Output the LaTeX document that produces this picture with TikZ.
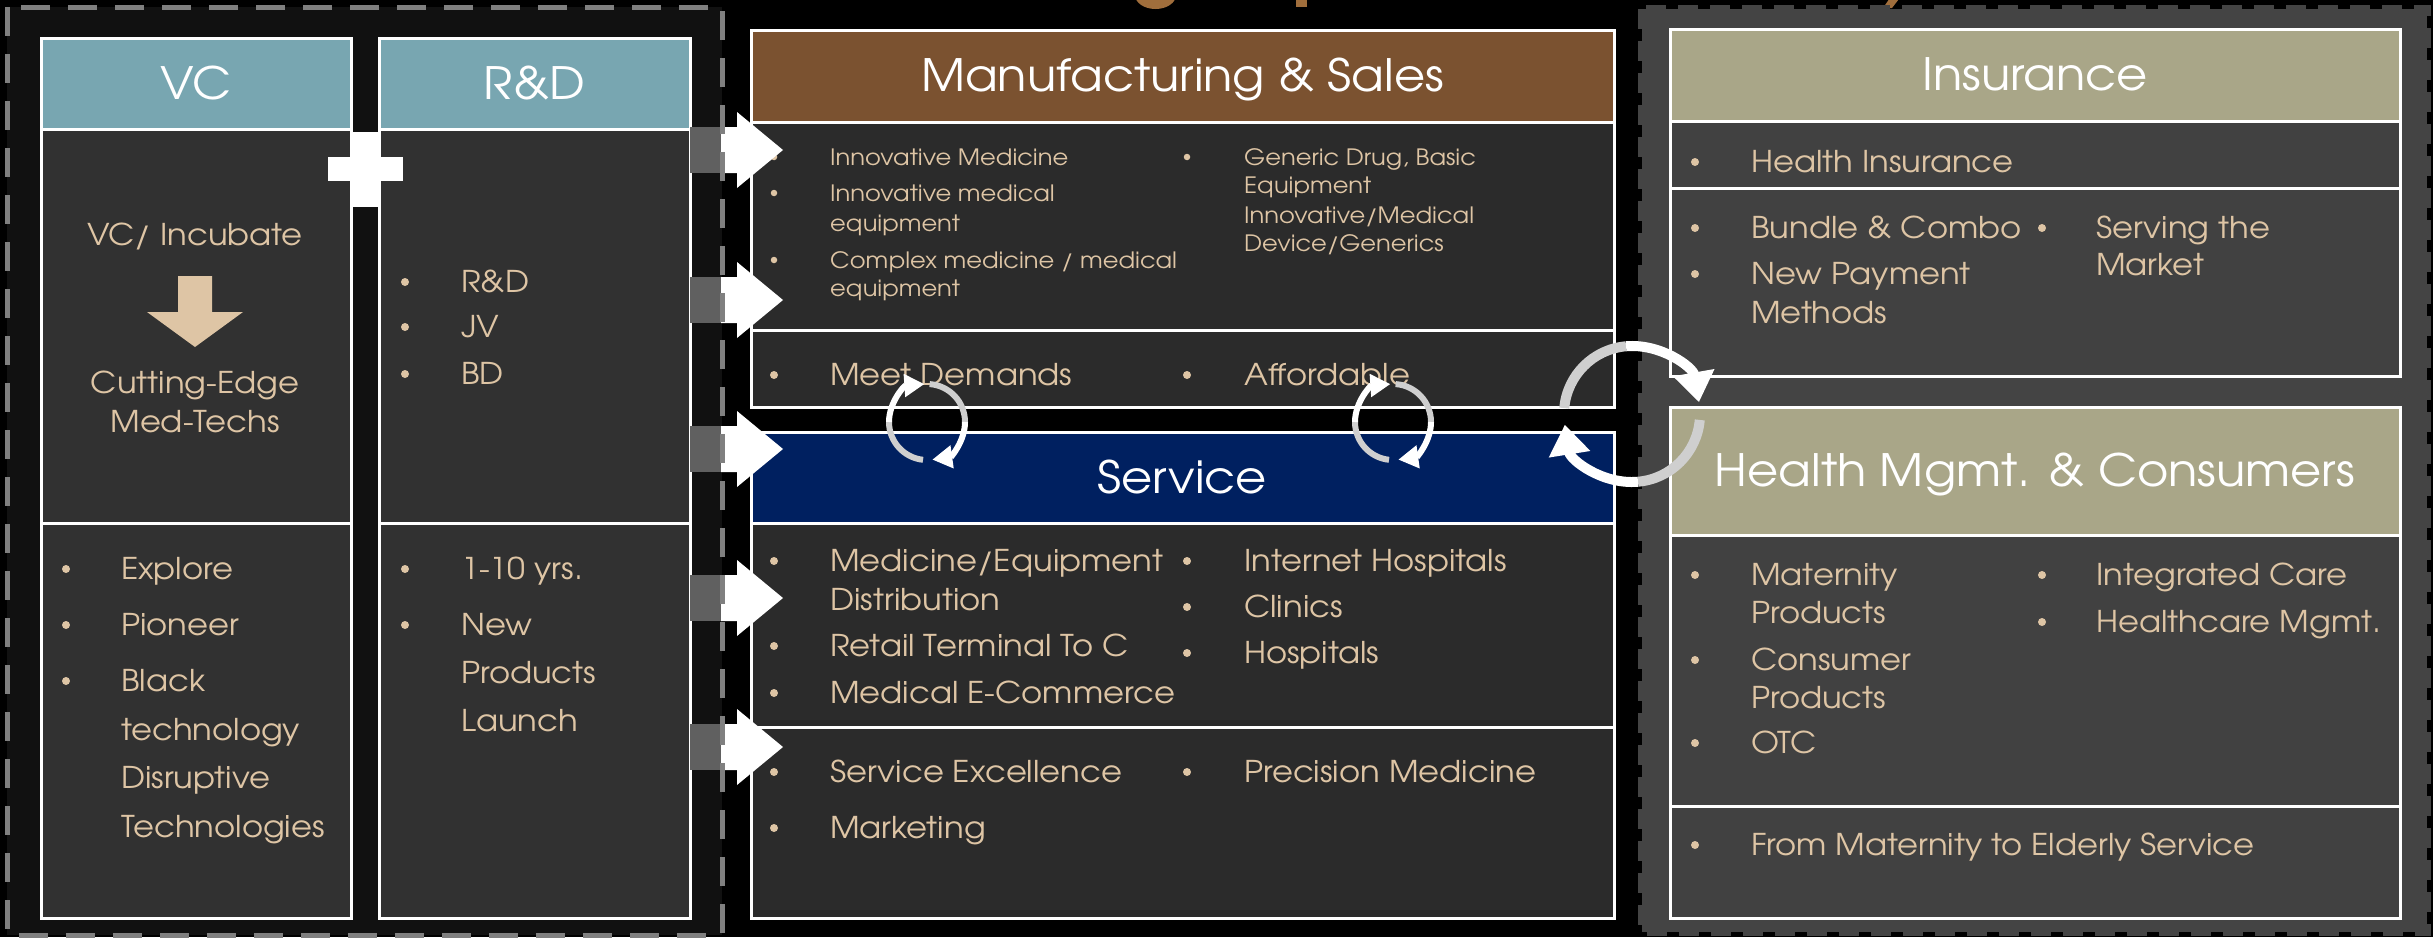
\documentclass[tikz,border=0pt]{standalone}
\usepackage{fontspec}
\setmainfont[FakeStretch=1.075]{TeX Gyre Adventor}
\usetikzlibrary{arrows.meta}
\definecolor{tancol}{HTML}{DEC5A5}
\definecolor{tealc}{HTML}{78A6B1}
\definecolor{brownh}{HTML}{7B5230}
\definecolor{navyc}{HTML}{002060}
\definecolor{khakic}{HTML}{A9A688}
\definecolor{bodyL}{HTML}{313131}
\definecolor{bodyM}{HTML}{2B2B2B}
\definecolor{bodyR}{HTML}{414141}
\definecolor{panelL}{HTML}{111111}
\definecolor{panelR}{HTML}{444444}
\definecolor{arcgray}{HTML}{CFCFCF}
\definecolor{shaftgray}{HTML}{606060}
\definecolor{dashgray}{HTML}{808080}
\definecolor{titlebrown}{HTML}{A06E3C}
\newcommand\bl[5]{\node[dot] (#1b) at (#2,#4) {}; \node[lst] (#1) at (#3,#4) {#5};}
\newcommand\sbl[5]{\node[sdot] (#1b) at (#2,#4) {}; \node[sml] (#1) at (#3,#4) {#5};}
\newcommand\tl[4]{\node[lst] (#1) at (#2,#3) {#4};}
\newcommand\stl[4]{\node[sml] (#1) at (#2,#3) {#4};}
\newcommand\bigarr[2]{%
  \fill[shaftgray] (690,{#2-23}) rectangle (722,{#2+23});
  \fill[white] (721,{#2-23}) -- (737,{#2-23}) -- (737,{#2-38}) -- (783,#2) -- (737,{#2+38}) -- (737,{#2+23}) -- (721,{#2+23}) -- cycle;
  \coordinate (#1) at (783,#2);}
% center x, center y, radius, start, mid, end, line width, head length, head width
\newcommand\circarr[9]{%
  \draw[arcgray, line width=#7pt] ([shift={(#4:#3)}]#1,#2) arc[start angle=#4, end angle=#5, radius=#3];
  \draw[white, line width=#7pt, -{Triangle[length=#8pt,width=#9pt]}] ([shift={(#5:#3)}]#1,#2) arc[start angle=#5, end angle=#6, radius=#3];}
\begin{document}
\begin{tikzpicture}[x=1pt,y=-1pt,
  box/.style={draw=white, line width=3pt, rectangle, anchor=north west, inner sep=0pt, outer sep=0pt},
  hdr/.style={box, text=white, font=\fontsize{44.6}{50}\selectfont, text height=31pt, text depth=0pt},
  lst/.style={anchor=west, inner sep=0pt, text=tancol, font=\fontsize{30}{36}\selectfont, text height=21pt, text depth=0pt},
  ctr/.style={lst, anchor=center},
  sml/.style={lst, font=\fontsize{22.5}{27}\selectfont, text height=16pt},
  dot/.style={circle, fill=tancol, minimum size=8pt, inner sep=0pt},
  sdot/.style={dot, minimum size=6.5pt}]
\useasboundingbox (0,0) rectangle (2433,937);
\fill[black] (0,0) rectangle (2433,937);
% title fragments
\fill[titlebrown] (1155.5,-5) ellipse [x radius=20.5, y radius=14];
\fill[titlebrown] (1296,-5) rectangle (1307,7);
\fill[titlebrown] (1892,-5) -- (1902,-5) -- (1892,8) -- (1883,8) -- cycle;
% panels
\fill[panelL] (7,7) rectangle (722,935);
\fill[panelR] (1642,9) rectangle (2427,932);
\draw[panelR, line width=8pt, dash pattern=on 20pt off 12pt] (1642,9) rectangle (2427,932);
% left column
\node[hdr, fill=tealc, minimum width=310pt, minimum height=91pt] (vcH) at (41,38) {VC};
\node[box, fill=bodyL, minimum width=310pt, minimum height=394pt] (vcU) at (41,129) {};
\node[box, fill=bodyL, minimum width=310pt, minimum height=395pt] (vcL) at (41,523) {};
\node[hdr, fill=tealc, minimum width=311pt, minimum height=91pt] (rdH) at (379,38) {R\&D};
\node[box, fill=bodyL, minimum width=311pt, minimum height=394pt] (rdU) at (379,129) {};
\node[box, fill=bodyL, minimum width=311pt, minimum height=395pt] (rdL) at (379,523) {};
\fill[white] (353,132) rectangle (378,207);
\fill[white] (328,157) rectangle (403,181);
\node[ctr] (vcA) at (195,235) {VC/ Incubate};
\fill[tancol] (178,276) -- (212,276) -- (212,312) -- (243,312) -- (195,347) -- (147,312) -- (178,312) -- cycle;
\node[ctr] (vcB) at (195,383) {Cutting-Edge};
\node[ctr] (vcC) at (195,422) {Med-Techs};
\bl{rd1}{405}{461}{282}{R\&D}
\bl{rd2}{405}{461}{327}{JV}
\bl{rd3}{405}{461}{374}{BD}
\bl{ex1}{66}{121}{569}{Explore}
\bl{ex2}{66}{121}{625}{Pioneer}
\bl{ex3}{66}{121}{681}{Black}
\tl{ex3b}{121}{730}{technology}
\tl{ex3c}{121}{778}{Disruptive}
\tl{ex3d}{121}{827}{Technologies}
\bl{yr1}{405}{461}{569}{1-10 yrs.}
\bl{yr2}{405}{461}{625}{New}
\tl{yr2b}{461}{673}{Products}
\tl{yr2c}{461}{721}{Launch}
% middle column
\node[hdr, fill=brownh, minimum width=863pt, minimum height=92pt] (msH) at (751,30) {Manufacturing \& Sales};
\node[box, fill=bodyM, minimum width=863pt, minimum height=208pt] (msB1) at (751,122) {};
\node[box, fill=bodyM, minimum width=863pt, minimum height=77pt] (msB2) at (751,330) {};
\node[hdr, fill=navyc, minimum width=863pt, minimum height=91pt] (svH) at (751,432) {Service};
\node[box, fill=bodyM, minimum width=863pt, minimum height=204pt] (svB1) at (751,523) {};
\node[box, fill=bodyM, minimum width=863pt, minimum height=191pt] (svB2) at (751,727) {};
\sbl{m1}{774}{830}{157}{Innovative Medicine}
\sbl{m2}{774}{830}{193}{Innovative medical}
\stl{m2b}{830}{223}{equipment}
\sbl{m3}{774}{830}{260}{Complex medicine / medical}
\stl{m3b}{830}{288}{equipment}
\sbl{m4}{1187}{1244}{157}{Generic Drug, Basic}
\stl{m4b}{1244}{185}{Equipment}
\stl{m4c}{1244}{215}{Innovative/Medical}
\stl{m4d}{1244}{243}{Device/Generics}
\bl{md}{774}{830}{375}{Meet Demands}
\bl{af}{1187}{1244}{375}{Affordable}
\bl{s1}{774}{830}{561}{Medicine/Equipment}
\tl{s1b}{830}{600}{Distribution}
\bl{s2}{774}{830}{646}{Retail Terminal To C}
\bl{s3}{774}{830}{693}{Medical E-Commerce}
\bl{s4}{1187}{1244}{561}{Internet Hospitals}
\bl{s5}{1187}{1244}{607}{Clinics}
\bl{s6}{1187}{1244}{653}{Hospitals}
\bl{se}{774}{830}{772}{Service Excellence}
\bl{pm}{1187}{1244}{772}{Precision Medicine}
\bl{mk}{774}{830}{828}{Marketing}
% right column
\node[hdr, fill=khakic, minimum width=730pt, minimum height=92pt] (inH) at (1670,29) {Insurance};
\node[box, fill=bodyR, minimum width=730pt, minimum height=67pt] (inB1) at (1670,121) {};
\node[box, fill=bodyR, minimum width=730pt, minimum height=188pt] (inB2) at (1670,188) {};
\node[hdr, fill=khakic, minimum width=730pt, minimum height=128pt] (hmH) at (1670,407) {Health Mgmt. \& Consumers};
\node[box, fill=bodyR, minimum width=730pt, minimum height=271pt] (hmB1) at (1670,535) {};
\node[box, fill=bodyR, minimum width=730pt, minimum height=112pt] (hmB2) at (1670,806) {};
\bl{i1}{1695}{1751}{162}{Health Insurance}
\bl{i2}{1695}{1751}{228}{Bundle \& Combo}
\bl{i3}{1695}{1751}{274}{New Payment}
\tl{i3b}{1751}{313}{Methods}
\bl{i4}{2042}{2096}{228}{Serving the}
\tl{i4b}{2096}{265}{Market}
\bl{h1}{1695}{1751}{575}{Maternity}
\tl{h1b}{1751}{613}{Products}
\bl{h2}{1695}{1751}{660}{Consumer}
\tl{h2b}{1751}{698}{Products}
\bl{h3}{1695}{1751}{743}{OTC}
\bl{h4}{2042}{2096}{575}{Integrated Care}
\bl{h5}{2042}{2096}{622}{Healthcare Mgmt.}
\bl{h6}{1695}{1751}{845}{From Maternity to Elderly Service}
% block arrows
\bigarr{a1}{150}
\bigarr{a2}{300}
\bigarr{a3}{449}
\bigarr{a4}{598}
\bigarr{a5}{747}
% left panel dashed border
\draw[dashgray, line width=5pt, dash pattern=on 29pt off 18pt] (7,7) rectangle (722,935);
% circular arrows
\circarr{927}{422}{38}{96}{180}{266}{6}{20}{22}
\circarr{927}{422}{38}{274}{360}{442}{6}{20}{22}
\circarr{1393}{422}{38}{96}{180}{266}{6}{20}{22}
\circarr{1393}{422}{38}{274}{360}{442}{6}{20}{22}
\circarr{1632}{414}{68}{185}{265}{350}{10}{30}{40}
\circarr{1632}{414}{68}{5}{85}{171}{10}{30}{40}
\end{tikzpicture}
\end{document}
